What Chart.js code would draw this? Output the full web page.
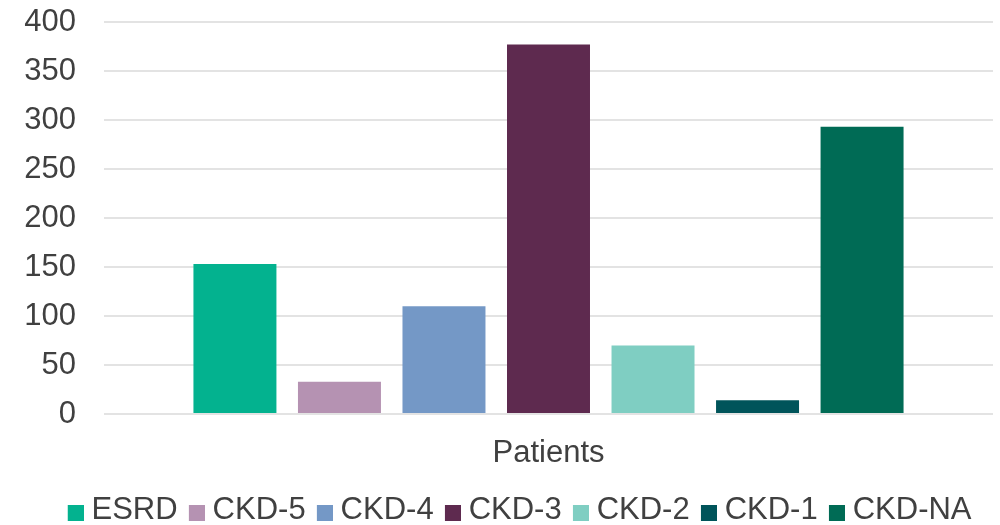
<!DOCTYPE html>
<html>
<head>
<meta charset="utf-8">
<script src="https://cdn.jsdelivr.net/npm/chart.js@4/dist/chart.umd.min.js"></script>
<style>
  html, body { margin: 0; padding: 0; background: #fff; }
  #wrap { width: 1000px; height: 525px; position: relative; }
</style>
</head>
<body>
<div id="wrap"><canvas id="grafico"></canvas></div>
<script>
// patient counts by kidney disease stage
const categorias = ["Patients"];
const estagios = ["ESRD", "CKD-5", "CKD-4", "CKD-3", "CKD-2", "CKD-1", "CKD-NA"];
const pacientes = [153, 33, 110, 377, 70, 14, 293];
const cores = ["#03b28f", "#b592b2", "#7498c6", "#5e2a4f", "#7fcec2", "#00545a", "#006b55"];
const ticksY = [0, 50, 100, 150, 200, 250, 300, 350, 400];

const fonte = { family: "'Liberation Sans', Arial, sans-serif", size: 31 };
const corTexto = "#404040";

// small square marker for the legend, drawn to the right of a transparent strip
// so the text sits close to it
function marcador(cor) {
  const c = document.createElement("canvas");
  c.width = 24;
  c.height = 21;
  const g = c.getContext("2d");
  g.fillStyle = cor;
  g.fillRect(8, 5, 16, 16);
  return c;
}

const datasets = estagios.map((nome, i) => ({
  label: nome,
  data: [pacientes[i]],
  backgroundColor: cores[i],
  pointStyle: marcador(cores[i]),
  categoryPercentage: 0.823,
  barPercentage: 0.794
}));

// nudges the legend row a little to the right
const moverLegenda = {
  id: "moverLegenda",
  afterLayout(chart) {
    chart.legend.left += 13;
    chart.legend.right += 13;
  }
};

new Chart(document.getElementById("grafico"), {
  type: "bar",
  data: { labels: categorias, datasets: datasets },
  plugins: [moverLegenda],
  options: {
    responsive: true,
    maintainAspectRatio: false,
    animation: false,
    layout: { padding: { top: 22, right: 7, left: 20, bottom: -11 } },
    plugins: {
      tooltip: { enabled: false },
      legend: {
        position: "bottom",
        labels: {
          font: fonte,
          color: corTexto,
          usePointStyle: true,
          pointStyleWidth: 8.5,
          padding: 11
        }
      }
    },
    scales: {
      x: {
        grid: { display: false },
        border: { display: false },
        ticks: { font: fonte, color: corTexto, padding: 13 },
        afterFit: (eixo) => { eixo.height = 70; }
      },
      y: {
        min: 0,
        max: 400,
        afterBuildTicks: (eixo) => { eixo.ticks = ticksY.map(v => ({ value: v })); },
        grid: { color: "#e3e3e3", lineWidth: 2, drawTicks: true, tickLength: 28, tickColor: "rgba(0,0,0,0)" },
        border: { display: false },
        ticks: { font: fonte, color: corTexto, padding: 0 },
        afterFit: (eixo) => { eixo.width = 84; }
      }
    }
  }
});
</script>
</body>
</html>
